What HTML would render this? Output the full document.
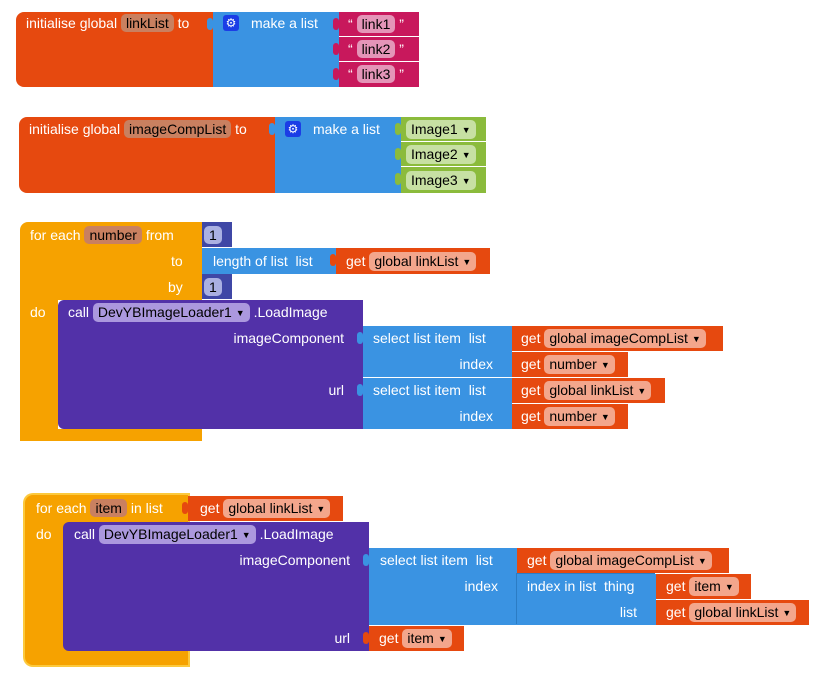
<!DOCTYPE html>
<html><head><meta charset="utf-8"><style>
body{margin:0;width:836px;height:698px;background:#fff;position:relative;overflow:hidden;font-family:"Liberation Sans",sans-serif}
.b{position:absolute}
.t{position:absolute;color:#fff;font-size:14px;line-height:18px;white-space:nowrap}
.p{display:inline-block;border-radius:5px;padding:0 5px;color:#000;line-height:18px}
.o{background:#e6490f}.bl{background:#3a93e2}.m{background:#c8185c}.g{background:#8bbb3c}.n{background:#3f47a6}.pu{background:#5231a8}.y{background:#f6a200}
.po{background:#f3a68c}.pm{background:#e495b8}.pg{background:#c7e0a3}.pn{background:#aab0e2}.pp{background:#ab98de}.py{background:#c98060}
.gear{position:absolute;width:16px;height:16px;background:#1b3de6;border-radius:3px;color:#fff;font-size:12px;line-height:16px;text-align:center}
.tab{position:absolute;width:6px;height:12px;border-radius:3px}
.dd{font-size:9px;margin-left:4px;vertical-align:1px}
</style></head><body>

<!-- Block 1 -->
<div class="b o" style="left:16px;top:12px;width:198px;height:75px;border-radius:8px 0 0 8px"></div>
<div class="b bl" style="left:213px;top:12px;width:126px;height:75px"></div>
<div class="tab bl" style="left:207px;top:18px"></div>
<div class="b m" style="left:339px;top:12px;width:80px;height:24px"></div>
<div class="b m" style="left:339px;top:37px;width:80px;height:24px"></div>
<div class="b m" style="left:339px;top:62px;width:80px;height:25px"></div>
<div class="tab m" style="left:333px;top:18px"></div><div class="tab m" style="left:333px;top:43px"></div><div class="tab m" style="left:333px;top:68px"></div>
<div class="t" style="left:26px;top:14px">initialise global <span class="p py">linkList</span> to</div>
<div class="gear" style="left:223px;top:15px">⚙</div>
<div class="t" style="left:251px;top:14px">make a list</div>
<div class="t" style="left:348px;top:15px">“ <span class="p pm">link1</span> ”</div>
<div class="t" style="left:348px;top:40px">“ <span class="p pm">link2</span> ”</div>
<div class="t" style="left:348px;top:65px">“ <span class="p pm">link3</span> ”</div>

<!-- Block 2 -->
<div class="b o" style="left:19px;top:117px;width:257px;height:76px;border-radius:8px 0 0 8px"></div>
<div class="b bl" style="left:275px;top:117px;width:126px;height:76px"></div>
<div class="tab bl" style="left:269px;top:123px"></div>
<div class="b g" style="left:401px;top:117px;width:85px;height:24px"></div>
<div class="b g" style="left:401px;top:142px;width:85px;height:24px"></div>
<div class="b g" style="left:401px;top:167px;width:85px;height:26px"></div>
<div class="tab g" style="left:395px;top:123px"></div><div class="tab g" style="left:395px;top:148px"></div><div class="tab g" style="left:395px;top:173px"></div>
<div class="t" style="left:29px;top:120px">initialise global <span class="p py">imageCompList</span> to</div>
<div class="gear" style="left:285px;top:121px">⚙</div>
<div class="t" style="left:313px;top:120px">make a list</div>
<div class="t" style="left:406px;top:120px"><span class="p pg">Image1<span class="dd">▼</span></span></div>
<div class="t" style="left:406px;top:145px"><span class="p pg">Image2<span class="dd">▼</span></span></div>
<div class="t" style="left:406px;top:171px"><span class="p pg">Image3<span class="dd">▼</span></span></div>

<!-- Block 3 -->
<div class="b y" style="left:20px;top:222px;width:182px;height:78px;border-radius:8px 0 0 0"></div>
<div class="b y" style="left:20px;top:299px;width:38px;height:142px;border-radius:0 0 0 8px"></div>
<div class="b y" style="left:20px;top:429px;width:182px;height:12px"></div>
<div class="b n" style="left:202px;top:222px;width:30px;height:25px"></div>
<div class="b n" style="left:202px;top:274px;width:30px;height:25px"></div>
<div class="b bl" style="left:202px;top:248px;width:134px;height:26px"></div>
<div class="b o" style="left:336px;top:248px;width:154px;height:26px"></div>
<div class="tab o" style="left:330px;top:254px"></div>
<div class="t" style="left:30px;top:226px">for each <span class="p py">number</span> from</div>
<div class="t" style="left:171px;top:252px">to</div>
<div class="t" style="left:168px;top:278px">by</div>
<div class="t" style="left:204px;top:226px"><span class="p pn">1</span></div>
<div class="t" style="left:204px;top:278px"><span class="p pn">1</span></div>
<div class="t" style="left:213px;top:252px">length of list&nbsp; list</div>
<div class="t" style="left:346px;top:252px">get <span class="p po">global linkList<span class="dd">▼</span></span></div>
<div class="t" style="left:30px;top:303px">do</div>
<div class="b pu" style="left:58px;top:300px;width:305px;height:129px;border-radius:6px 0 0 6px"></div>
<div class="t" style="left:68px;top:303px">call <span class="p pp">DevYBImageLoader1<span class="dd">▼</span></span> .LoadImage</div>
<div class="t" style="right:492px;top:329px">imageComponent</div>
<div class="t" style="right:492px;top:381px">url</div>
<div class="b bl" style="left:363px;top:326px;width:149px;height:51px"></div>
<div class="b bl" style="left:363px;top:378px;width:149px;height:51px"></div>
<div class="tab bl" style="left:357px;top:332px"></div><div class="tab bl" style="left:357px;top:384px"></div>
<div class="t" style="left:373px;top:329px">select list item&nbsp; list</div>
<div class="t" style="right:343px;top:355px">index</div>
<div class="t" style="left:373px;top:381px">select list item&nbsp; list</div>
<div class="t" style="right:343px;top:407px">index</div>
<div class="b o" style="left:512px;top:326px;width:211px;height:25px"></div>
<div class="b o" style="left:512px;top:352px;width:116px;height:25px"></div>
<div class="b o" style="left:512px;top:378px;width:153px;height:25px"></div>
<div class="b o" style="left:512px;top:404px;width:116px;height:25px"></div>
<div class="t" style="left:521px;top:329px">get <span class="p po">global imageCompList<span class="dd">▼</span></span></div>
<div class="t" style="left:521px;top:355px">get <span class="p po">number<span class="dd">▼</span></span></div>
<div class="t" style="left:521px;top:381px">get <span class="p po">global linkList<span class="dd">▼</span></span></div>
<div class="t" style="left:521px;top:407px">get <span class="p po">number<span class="dd">▼</span></span></div>

<!-- Block 4 -->
<div class="b y" style="left:25px;top:495px;width:163px;height:170px;border-radius:8px 0 0 8px;box-shadow:0 0 0 2px #fcc93d"></div>
<div class="b o" style="left:188px;top:496px;width:155px;height:25px"></div>
<div class="tab o" style="left:182px;top:502px"></div>
<div class="t" style="left:36px;top:499px">for each <span class="p py">item</span> in list</div>
<div class="t" style="left:200px;top:499px">get <span class="p po">global linkList<span class="dd">▼</span></span></div>
<div class="t" style="left:36px;top:525px">do</div>
<div class="b pu" style="left:63px;top:522px;width:306px;height:129px;border-radius:6px 0 0 6px"></div>
<div class="t" style="left:74px;top:525px">call <span class="p pp">DevYBImageLoader1<span class="dd">▼</span></span> .LoadImage</div>
<div class="t" style="right:486px;top:551px">imageComponent</div>
<div class="t" style="right:486px;top:629px">url</div>
<div class="b bl" style="left:369px;top:548px;width:148px;height:77px"></div>
<div class="tab bl" style="left:363px;top:554px"></div>
<div class="b bl" style="left:517px;top:574px;width:139px;height:51px;box-shadow:-1px -1px 0 #2b7cc4"></div>
<div class="t" style="left:380px;top:551px">select list item&nbsp; list</div>
<div class="t" style="right:338px;top:577px">index</div>
<div class="t" style="left:527px;top:577px">index in list&nbsp; thing</div>
<div class="t" style="right:199px;top:603px">list</div>
<div class="b o" style="left:517px;top:548px;width:212px;height:25px"></div>
<div class="b o" style="left:656px;top:574px;width:95px;height:25px"></div>
<div class="b o" style="left:656px;top:600px;width:153px;height:25px"></div>
<div class="b o" style="left:369px;top:626px;width:95px;height:25px"></div>
<div class="tab o" style="left:363px;top:632px"></div>
<div class="t" style="left:527px;top:551px">get <span class="p po">global imageCompList<span class="dd">▼</span></span></div>
<div class="t" style="left:666px;top:577px">get <span class="p po">item<span class="dd">▼</span></span></div>
<div class="t" style="left:666px;top:603px">get <span class="p po">global linkList<span class="dd">▼</span></span></div>
<div class="t" style="left:379px;top:629px">get <span class="p po">item<span class="dd">▼</span></span></div>
</body></html>
